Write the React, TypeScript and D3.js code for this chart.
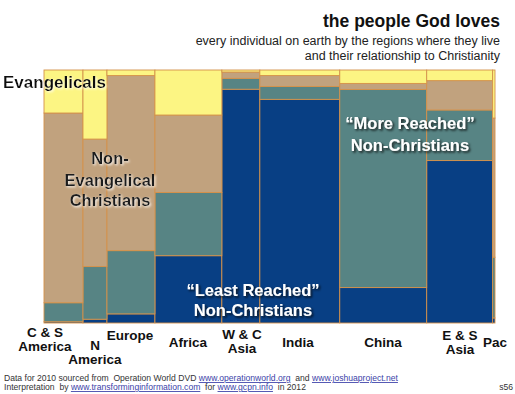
import { useMemo } from "react"
import * as d3 from "d3"

// regions and their 2010 populations (millions, estimated from widths)
const regions = ["C & S America", "N America", "Europe", "Africa", "W & C Asia", "India", "China", "E & S Asia", "Pac"]
const population = [593, 365, 730, 1018, 578, 1216, 1323, 1003, 36]

// share of each region's people (percent), bottom to top
const leastReached = [0.5, 1.5, 3.6, 26.6, 92.4, 88.4, 14.0, 64.2, 2]
const moreReached = [7.5, 20.8, 25.0, 25.0, 4.3, 5.1, 78.3, 20.0, 24]
const nonEvangelical = [75.0, 50.4, 69.2, 30.6, 2.5, 4.3, 2.4, 11.6, 55]
const evangelicals = [17.0, 27.3, 2.2, 17.8, 0.8, 2.2, 5.3, 4.2, 19]

const keys = ["least", "more", "nonEvang", "evang"]
const colors = { least: "#083f84", more: "#578484", nonEvang: "#c1a27e", evang: "#fcf583" }

// labels under each column, one entry per line
const regionLabels = [
  { lines: ["C & S", "America"], dy: 0 },
  { lines: ["N", "America"], dy: 13 },
  { lines: ["Europe"], dy: 3 },
  { lines: ["Africa"], dy: 10 },
  { lines: ["W & C", "Asia"], dy: 2 },
  { lines: ["India"], dy: 10 },
  { lines: ["China"], dy: 10 },
  { lines: ["E & S", "Asia"], dy: 3 },
  { lines: ["Pac"], dy: 10 }
]
const labelCenters = [45, 95, 130, 188, 242, 298, 383, 460, 495]

const W = 515
const H = 394
const margin = { top: 70, right: 20, bottom: 71, left: 44 }

export default function App() {
  const table = regions.map((r, i) => ({
    region: r,
    least: leastReached[i],
    more: moreReached[i],
    nonEvang: nonEvangelical[i],
    evang: evangelicals[i]
  }))

  const cum = useMemo(() => [0, ...Array.from(d3.cumsum(population))], [])
  const total = cum[cum.length - 1]

  const x = d3.scaleLinear().domain([0, total]).range([margin.left, W - margin.right])
  const y = d3.scaleLinear().domain([0, 100]).range([H - margin.bottom, margin.top])
  const series = d3.stack().keys(keys)(table)

  const font = "'Liberation Sans', Arial, sans-serif"
  const link = "#3b3fa8"

  return (
    <svg width={W} height={H} style={{ position: "absolute", left: 0, top: 0, background: "#fff" }} fontFamily={font}>
      <defs>
        <filter id="darkShadow" x="-10%" y="-30%" width="120%" height="160%">
          <feDropShadow dx="1.6" dy="1.6" stdDeviation="0.9" floodColor="#111" floodOpacity="0.85" />
        </filter>
        <filter id="lightShadow" x="-10%" y="-30%" width="120%" height="160%">
          <feDropShadow dx="1.2" dy="1.2" stdDeviation="0.8" floodColor="#ffffff" floodOpacity="0.9" />
        </filter>
      </defs>

      {/* title */}
      <text x={500} y={27} textAnchor="end" fontSize={17.5} fontWeight={700} fill="#111">the people God loves</text>
      <text x={500} y={45} textAnchor="end" fontSize={12.5} fill="#222">every individual on earth by the regions where they live</text>
      <text x={500} y={60} textAnchor="end" fontSize={12.5} fill="#222">and their relationship to Christianity</text>

      {/* mosaic */}
      <g>
        {series.map(s => (
          <g key={s.key} fill={colors[s.key]}>
            {s.map((d, i) => (
              <rect
                key={i}
                x={x(cum[i])}
                y={y(d[1])}
                width={x(cum[i + 1]) - x(cum[i])}
                height={y(d[0]) - y(d[1])}
                stroke="#d4914a"
                strokeWidth={0.9}
              />
            ))}
          </g>
        ))}
      </g>

      {/* segment labels */}
      <text x={3} y={88} fontSize={17} fontWeight={700} fill="#111" filter="url(#lightShadow)">Evangelicals</text>
      <g fontSize={16.5} fontWeight={700} fill="#1a1a1a" textAnchor="middle" filter="url(#lightShadow)">
        <text x={110} y={164}>Non-</text>
        <text x={110} y={186}>Evangelical</text>
        <text x={110} y={206}>Christians</text>
      </g>
      <g fontSize={16.5} fontWeight={700} fill="#fff" textAnchor="middle" filter="url(#darkShadow)">
        <text x={410} y={129}>“More Reached”</text>
        <text x={410} y={151}>Non-Christians</text>
        <text x={253} y={296}>“Least Reached”</text>
        <text x={253} y={316}>Non-Christians</text>
      </g>

      {/* region labels */}
      <g fontSize={13.5} fontWeight={700} fill="#111" textAnchor="middle">
        {regionLabels.map((l, i) =>
          l.lines.map((t, j) => (
            <text key={regions[i] + j} x={labelCenters[i]} y={337 + l.dy + j * 14}>{t}</text>
          ))
        )}
      </g>

      {/* footer */}
      <g fontSize={8.6} fill="#333">
        <text x={4} y={381} style={{ whiteSpace: "pre" }}>
          {"Data for 2010 sourced from  Operation World DVD "}
          <tspan fill={link} textDecoration="underline">www.operationworld.org</tspan>
          {"  and "}
          <tspan fill={link} textDecoration="underline">www.joshuaproject.net</tspan>
        </text>
        <text x={4} y={390} style={{ whiteSpace: "pre" }}>
          {"Interpretation  by "}
          <tspan fill={link} textDecoration="underline">www.transforminginformation.com</tspan>
          {"  for "}
          <tspan fill={link} textDecoration="underline">www.gcpn.info</tspan>
          {"  in 2012"}
        </text>
        <text x={513} y={390} textAnchor="end">s56</text>
      </g>
    </svg>
  )
}
